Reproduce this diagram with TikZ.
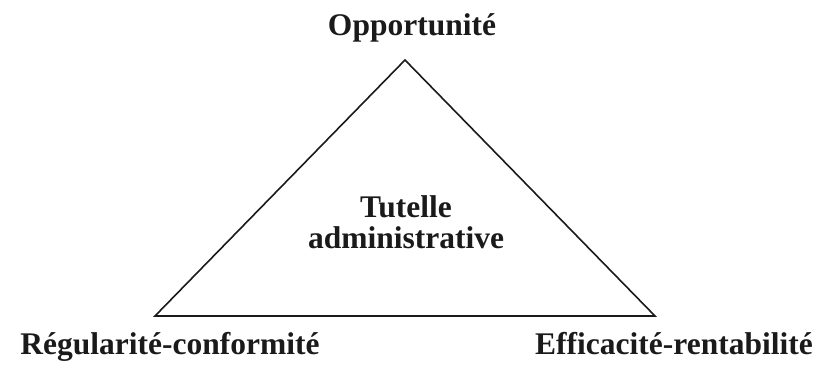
\documentclass[tikz,border=0pt]{standalone}
\usepackage{fontspec}
\setmainfont{Liberation Serif}
\usepackage{tikz}
\usetikzlibrary{positioning}
\definecolor{inkgray}{HTML}{1A1A1A}

\begin{document}
\begin{tikzpicture}[
  x=1pt, y=-1pt,
  every node/.style={inner sep=0pt, font=\fontsize{31.5}{31}\selectfont\bfseries, text=inkgray},
  pole/.style={anchor=base},
  side/.style={draw=inkgray, line width=1.6pt, line join=miter}
]
\useasboundingbox (0,0) rectangle (817,365);
% corners of the triangle
\coordinate (top) at (405,60);
\coordinate (left) at (155,316);
\coordinate (right) at (655,316);
\draw[side] (top) -- (right) -- (left) -- cycle;
% labels of the three poles
\node[pole] (opp) at (412,35) {Opportunité};
\node[pole] (reg) at (170,354) {Régularité-conformité};
\node[pole] (eff) at (674,354) {Efficacité-rentabilité};
\node[align=center, anchor=base] (tut) at (406,248) {Tutelle\\administrative};
\end{tikzpicture}
\end{document}
